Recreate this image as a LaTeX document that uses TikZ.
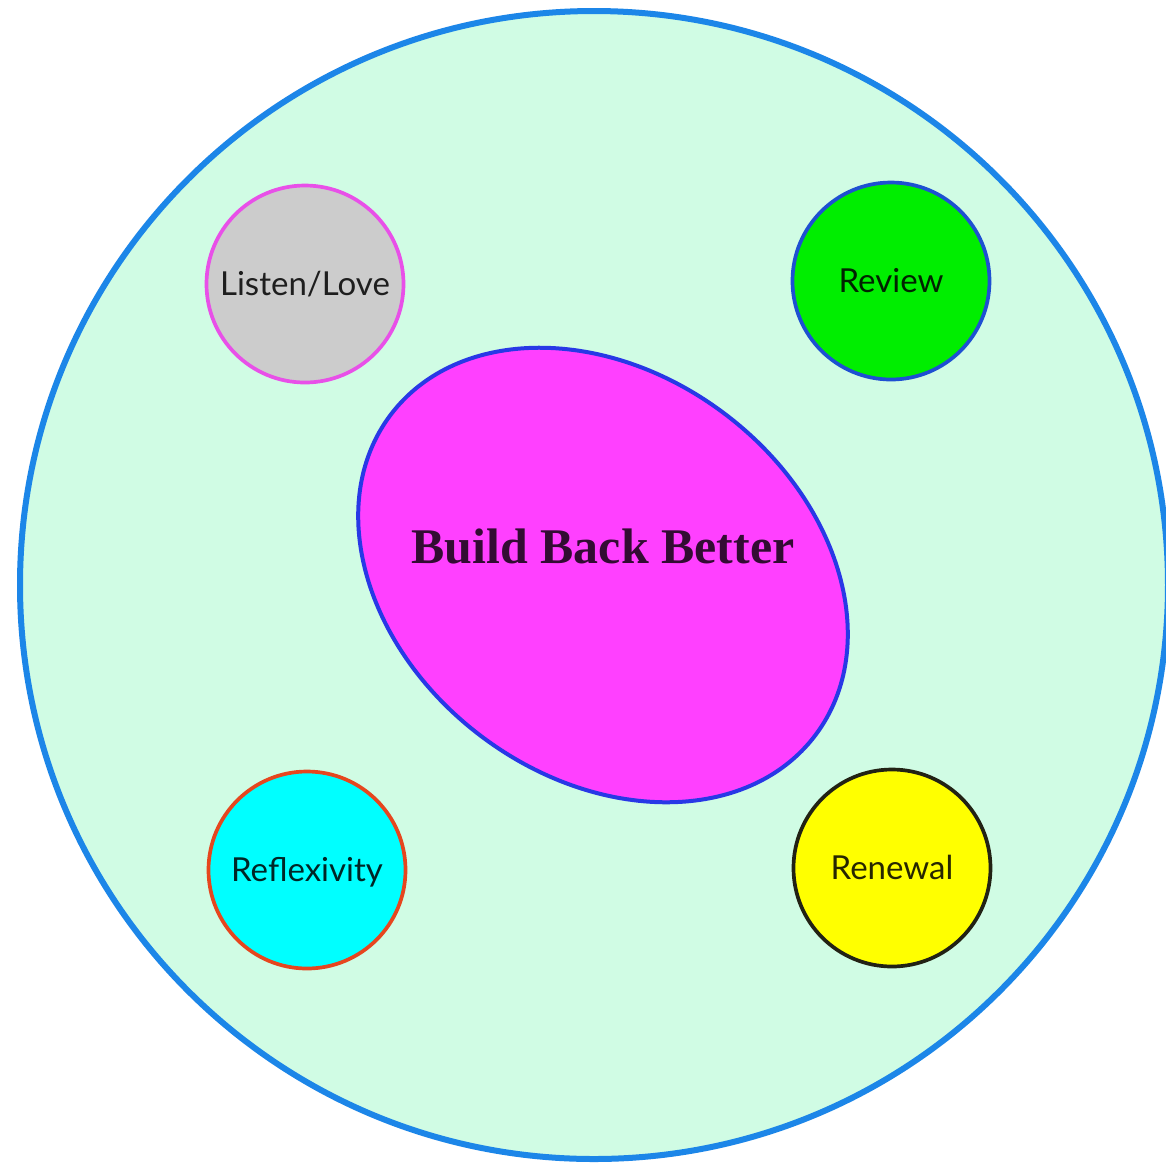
\documentclass[tikz,border=0pt]{standalone}
\usepackage{fontspec}
\newfontfamily\bubblefont{Lato}
\newfontfamily\titlefont{Liberation Serif}
\usetikzlibrary{shapes.geometric}
\definecolor{mintfill}{RGB}{208,252,228}
\definecolor{ringblue}{RGB}{28,134,232}
\definecolor{blobpink}{RGB}{255,64,255}
\definecolor{blobedge}{RGB}{40,56,230}
\definecolor{lovefill}{RGB}{204,204,204}
\definecolor{loveedge}{RGB}{232,80,232}
\definecolor{reviewfill}{RGB}{0,238,0}
\definecolor{reviewedge}{RGB}{30,80,210}
\definecolor{reflexfill}{RGB}{0,255,255}
\definecolor{reflexedge}{RGB}{230,70,30}
\definecolor{renewfill}{RGB}{255,255,0}
\definecolor{renewedge}{RGB}{34,34,20}
\tikzset{
    ring/.style={circle, draw=ringblue, fill=mintfill, line width=0.06cm, minimum size=11.48cm, inner sep=0pt},
    blob/.style={ellipse, draw=blobedge, fill=blobpink, line width=0.04cm, minimum width=5.32cm, minimum height=4.04cm, inner sep=0pt},
    blobtext/.style={font=\titlefont\bfseries\fontsize{14.2}{16}\selectfont, text opacity=0.8},
    bubble/.style={circle, line width=0.037cm, minimum size=1.97cm, inner sep=0pt, text opacity=0.85,
        font=\bubblefont\fontsize{9.4}{11}\selectfont, text height=6.7pt, text depth=0pt},
}

\begin{document}
\begin{tikzpicture}
    \clip (0,0) rectangle (11.66,-11.68);
    \fill[white] (0,0) rectangle (11.66,-11.68);

    \node[ring] (world) at (5.94,-5.85) {};
    \node[blob, rotate=-37] (core) at (6.03,-5.75) {};
    \node[blobtext, anchor=base] (coretitle) at (6.03,-5.63) {Build Back Better};

    \node[bubble, draw=loveedge, fill=lovefill] (love) at (3.05,-2.84) {Listen/Love};
    \node[bubble, draw=reviewedge, fill=reviewfill] (review) at (8.91,-2.81) {Review};
    \node[bubble, draw=reflexedge, fill=reflexfill] (reflex) at (3.07,-8.70) {Reflexivity};
    \node[bubble, draw=renewedge, fill=renewfill] (renew) at (8.92,-8.68) {Renewal};
\end{tikzpicture}
\end{document}
